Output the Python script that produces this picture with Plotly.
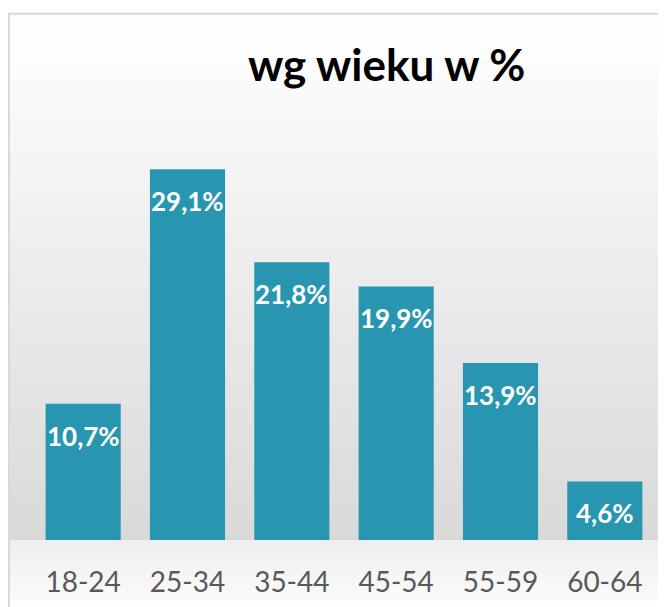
import base64, struct, zlib
import plotly.graph_objects as go

# ---- data ----
categories = ["18-24", "25-34", "35-44", "45-54", "55-59", "60-64"]
values = [10.7, 29.1, 21.8, 19.9, 13.9, 4.6]
title_text = "wg wieku w %"

OFF = 8                      # default page body margin
W, H = 666 - OFF, 607 - OFF  # figure size
ML, MR, MT, MB = 31 - OFF, 9, 145 - OFF, 62
PW, PH = W - ML - MR, H - MT - MB

# ---- background gradient image (style only), in page pixel rows ----
def gray_at(py):
    if py < 60:
        return 253
    if py < 545:
        t = (py - 60) / (545 - 60)
        return int(round(252 - t * (252 - 217)))
    t = (py - 545) / (607 - 545)
    return int(round(238 + t * (251 - 238)))

rows = b""
for fy in range(H):
    g = gray_at(fy + OFF)
    rows += b"\x00" + bytes([g, g, g])
def chunk(tag, data):
    c = struct.pack(">I", len(data)) + tag + data
    return c + struct.pack(">I", zlib.crc32(tag + data) & 0xffffffff)
png = b"\x89PNG\r\n\x1a\n" + chunk(b"IHDR", struct.pack(">IIBBBBB", 1, H, 8, 2, 0, 0, 0)) \
      + chunk(b"IDAT", zlib.compress(rows)) + chunk(b"IEND", b"")
bg_uri = "data:image/png;base64," + base64.b64encode(png).decode()

FONT = "Lato"

def px_x(page_x):
    return (page_x - OFF - ML) / PW
def px_y(page_y):
    return (MT + PH - (page_y - OFF)) / PH

fig = go.Figure()
fig.add_trace(go.Bar(
    x=categories, y=values,
    marker=dict(color="#2896b1", line=dict(width=0)),
    hoverinfo="skip",
))

for c, v in zip(categories, values):
    fig.add_annotation(
        x=c, y=v, xref="x", yref="y",
        text=f"<b>{v:.1f}%</b>".replace(".", ","),
        showarrow=False, yanchor="top", yshift=-14,
        font=dict(family=FONT, size=26, color="white"),
    )

fig.add_annotation(
    x=px_x(387), y=px_y(63), xref="paper", yref="paper",
    text=f"<b>{title_text}</b>", showarrow=False,
    xanchor="center", yanchor="middle",
    font=dict(family=FONT, size=44, color="#000000"),
)

fig.add_layout_image(
    source=bg_uri, xref="paper", yref="paper",
    x=-ML / PW, y=(PH + MT) / PH, sizex=W / PW, sizey=H / PH,
    xanchor="left", yanchor="top", sizing="stretch", layer="below",
)

fig.add_shape(
    type="rect", xref="paper", yref="paper",
    x0=px_x(9), x1=px_x(680), y0=px_y(620), y1=px_y(12),
    line=dict(color="#d9d9d9", width=2), fillcolor="rgba(0,0,0,0)", layer="above",
)

fig.update_layout(
    width=W, height=H,
    margin=dict(l=ML, r=MR, t=MT, b=MB),
    paper_bgcolor="white", plot_bgcolor="rgba(0,0,0,0)",
    bargap=0.28, showlegend=False,
    xaxis=dict(showgrid=False, zeroline=False, showline=False, ticks="",
               tickfont=dict(family=FONT, size=28, color="#595959"),
               ticklabelstandoff=23, fixedrange=True),
    yaxis=dict(range=[0, 31], visible=False, fixedrange=True),
)

fig.write_html("out.html")
